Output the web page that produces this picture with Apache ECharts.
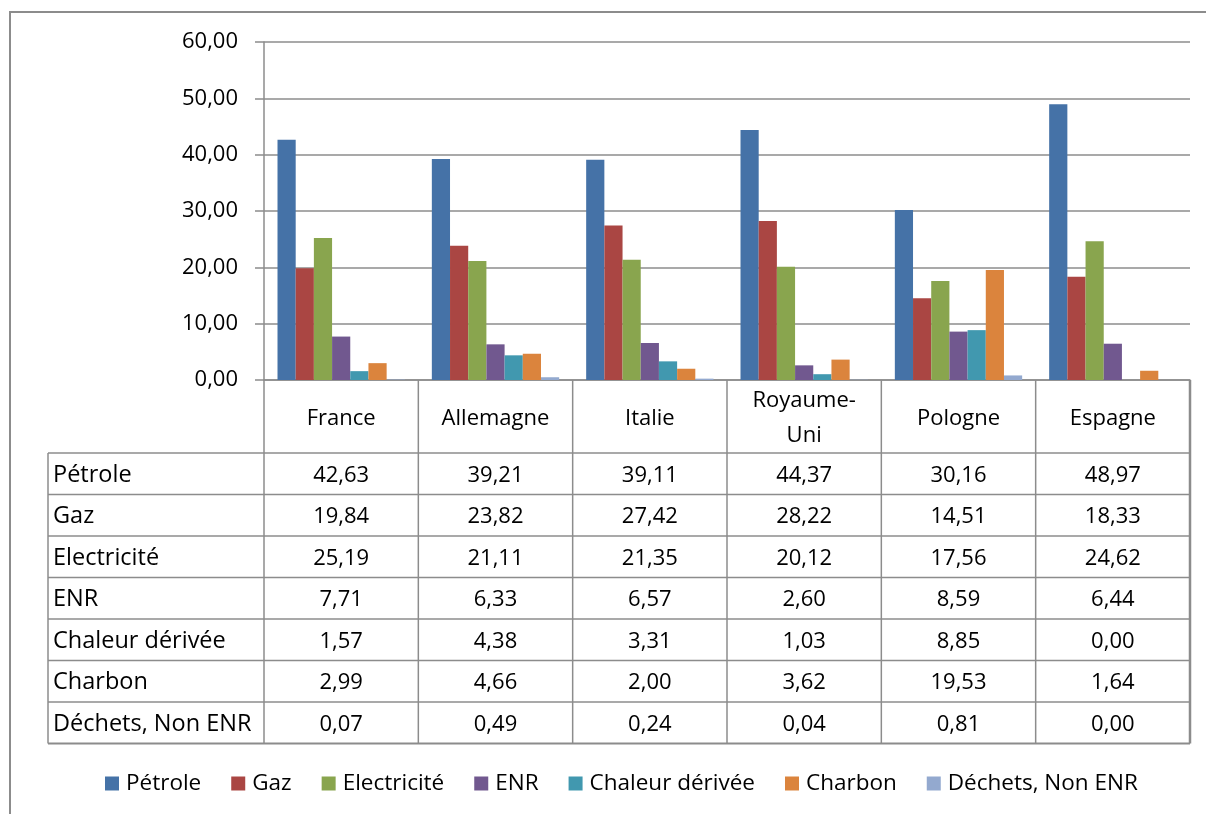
<!DOCTYPE html>
<html>
<head>
<meta charset="utf-8">
<script src="https://cdn.jsdelivr.net/npm/echarts@6/dist/echarts.min.js"></script>
<style>
  html, body { margin: 0; padding: 0; background: #ffffff; }
  #chart { width: 1206px; height: 814px; }
</style>
</head>
<body>
<div id="chart"></div>
<script>
// Consommation d'énergie par source et par pays (%)
const countries = ['France', 'Allemagne', 'Italie', 'Royaume-Uni', 'Pologne', 'Espagne'];
const seriesNames = ['Pétrole', 'Gaz', 'Electricité', 'ENR', 'Chaleur dérivée', 'Charbon', 'Déchets, Non ENR'];

const petrole     = [42.63, 39.21, 39.11, 44.37, 30.16, 48.97];
const gaz         = [19.84, 23.82, 27.42, 28.22, 14.51, 18.33];
const electricite = [25.19, 21.11, 21.35, 20.12, 17.56, 24.62];
const enr         = [7.71, 6.33, 6.57, 2.60, 8.59, 6.44];
const chaleur     = [1.57, 4.38, 3.31, 1.03, 8.85, 0.00];
const charbon     = [2.99, 4.66, 2.00, 3.62, 19.53, 1.64];
const dechets     = [0.07, 0.49, 0.24, 0.04, 0.81, 0.00];

const yMin = 0, yMax = 60, yStep = 10;

const allSeries = [petrole, gaz, electricite, enr, chaleur, charbon, dechets];
const colors = ['#4572A7', '#AA4643', '#89A54E', '#71588F', '#4198AF', '#DB843D', '#93A9CF'];

const FONT = '"Open Sans", "Noto Sans", sans-serif';
const FS = 22;
const FS_LEGEND = 22.5;
const FS_ROWLABEL = 23.5;
const LINE = '#8c8c8c';

// layout of plot + data table
const gridLeft = 264, gridRight = 16, gridTop = 42, gridBottomY = 380;
const tableLeft = 48, headerH = 73, rowH = 41.5;
const textDy = 1.5;

const fmt = v => v.toFixed(2).replace('.', ',');

const chart = echarts.init(document.getElementById('chart'), null, { renderer: 'canvas' });

const option = {
  animation: false,
  backgroundColor: '#ffffff',
  color: colors,
  textStyle: { fontFamily: FONT },
  grid: { left: gridLeft, right: gridRight, top: gridTop, bottom: 814 - gridBottomY, containLabel: false },
  legend: {
    left: 100,
    top: 767,
    icon: 'rect',
    itemWidth: 14,
    itemHeight: 14,
    itemGap: 30,
    textStyle: { fontFamily: FONT, fontSize: FS_LEGEND, color: '#000', padding: [0, 0, 0, 2] },
    data: seriesNames
  },
  xAxis: {
    type: 'category',
    data: countries,
    axisLine: { show: true, lineStyle: { color: LINE, width: 1.5 } },
    axisTick: { show: false },
    axisLabel: { show: false },
    splitLine: { show: false }
  },
  yAxis: {
    type: 'value',
    min: yMin,
    max: yMax,
    interval: yStep,
    axisLine: { show: true, lineStyle: { color: LINE, width: 1.5 } },
    axisTick: { show: true, length: 9, lineStyle: { color: LINE, width: 1.5 } },
    axisLabel: {
      margin: 26,
      color: '#000',
      fontFamily: FONT,
      fontSize: FS,
      formatter: v => fmt(v)
    },
    splitLine: { show: true, lineStyle: { color: LINE, width: 1.5 } }
  },
  series: seriesNames.map((name, i) => ({
    name,
    type: 'bar',
    data: allSeries[i],
    barGap: '0%',
    barCategoryGap: '17.5%',
    itemStyle: { color: colors[i] }
  }))
};

chart.setOption(option);

// Data table drawn under the plot, aligned to the category axis
function buildTable() {
  const plotRight = 1206 - gridRight;
  const colW = (plotRight - gridLeft) / countries.length;
  const nRows = seriesNames.length;
  const bodyTop = gridBottomY + headerH;
  const tableBottom = bodyTop + rowH * nRows;
  const els = [];
  const line = (x1, y1, x2, y2, w) => ({
    type: 'line', silent: true,
    shape: { x1, y1, x2, y2 },
    style: { stroke: LINE, lineWidth: w || 1.5 }
  });
  const text = (t, x, y, align, extra) => ({
    type: 'text', silent: true, x, y: y + textDy,
    style: Object.assign({
      text: t, fill: '#000', fontFamily: FONT, fontSize: FS,
      align, verticalAlign: 'middle'
    }, extra || {})
  });

  // outer chart frame
  els.push({
    type: 'rect', silent: true,
    shape: { x: 10, y: 12, width: 1400, height: 1000 },
    style: { fill: null, stroke: LINE, lineWidth: 2 }
  });

  // vertical separators between categories (header + body)
  for (let c = 0; c <= countries.length; c++) {
    const x = gridLeft + c * colW;
    els.push(line(x, gridBottomY, x, tableBottom, c === countries.length ? 2.5 : 1.5));
  }
  // label column left edge
  els.push(line(tableLeft, bodyTop, tableLeft, tableBottom));
  // horizontal row lines
  for (let r = 0; r <= nRows; r++) {
    const y = bodyTop + r * rowH;
    els.push(line(tableLeft, y, plotRight, y, r === nRows ? 2 : 1.5));
  }

  // header: country names
  countries.forEach((name, c) => {
    const cx = chart.convertToPixel({ xAxisIndex: 0 }, c);
    const label = name.indexOf('-') >= 0 ? name.replace('-', '-\n') : name;
    els.push(text(label, cx, gridBottomY + headerH / 2 + 0.5, 'center', { lineHeight: 35 }));
  });

  // body: series names and values
  seriesNames.forEach((name, r) => {
    const cy = bodyTop + rowH * (r + 0.5);
    els.push(text(name, tableLeft + 5, cy, 'left', { fontSize: FS_ROWLABEL }));
    allSeries[r].forEach((v, c) => {
      const cx = chart.convertToPixel({ xAxisIndex: 0 }, c);
      els.push(text(fmt(v), cx, cy, 'center'));
    });
  });

  chart.setOption({ graphic: { elements: els } });
}

buildTable();
</script>
</body>
</html>
